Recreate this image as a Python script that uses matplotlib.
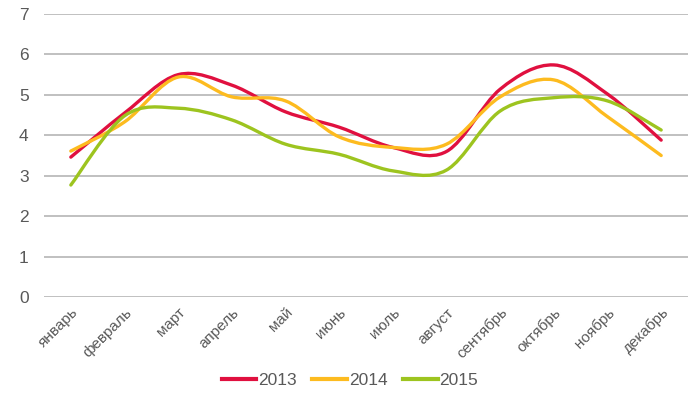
import matplotlib.pyplot as plt
from matplotlib.path import Path
from matplotlib.patches import PathPatch
from matplotlib.lines import Line2D

plt.rcParams['font.family'] = ['Liberation Sans', 'DejaVu Sans']

months = ['январь', 'февраль', 'март', 'апрель', 'май', 'июнь',
          'июль', 'август', 'сентябрь', 'октябрь', 'ноябрь', 'декабрь']
v2013 = [3.46, 4.55, 5.50, 5.24, 4.58, 4.20, 3.70, 3.60, 5.14, 5.74, 5.02, 3.88]
v2014 = [3.61, 4.33, 5.44, 4.95, 4.85, 3.96, 3.70, 3.78, 4.95, 5.37, 4.46, 3.50]
v2015 = [2.77, 4.48, 4.67, 4.38, 3.78, 3.53, 3.12, 3.14, 4.60, 4.93, 4.85, 4.13]

series = [('2013', v2013, '#E0103F'), ('2014', v2014, '#FDBB1F'), ('2015', v2015, '#9DC41F')]


def smooth_path(xs, ys, t=1 / 6):
    # excel-like smoothing: cubic bezier through every point
    verts = [(xs[0], ys[0])]
    codes = [Path.MOVETO]
    n = len(xs)
    for i in range(n - 1):
        x0, y0 = (xs[i - 1], ys[i - 1]) if i > 0 else (xs[i], ys[i])
        x1, y1 = xs[i], ys[i]
        x2, y2 = xs[i + 1], ys[i + 1]
        x3, y3 = (xs[i + 2], ys[i + 2]) if i + 2 < n else (x2, y2)
        verts += [(x1 + (x2 - x0) * t, y1 + (y2 - y0) * t),
                  (x2 - (x3 - x1) * t, y2 - (y3 - y1) * t),
                  (x2, y2)]
        codes += [Path.CURVE4] * 3
    return Path(verts, codes)


fig = plt.figure(figsize=(7, 3.94), dpi=100)
ax = fig.add_axes([44 / 700, 1 - 297 / 394, 644 / 700, 283 / 394])

x = list(range(len(months)))
handles = []
for name, vals, col in series:
    ax.add_patch(PathPatch(smooth_path(x, vals), facecolor='none', edgecolor=col,
                           linewidth=2.4, capstyle='round', zorder=3))
    handles.append(Line2D([], [], color=col, linewidth=3, label=name))

ax.set_xlim(-0.5, 11.5)
ax.set_ylim(0, 7)
ax.set_yticks(range(8))
ax.set_xticks(x)
ax.set_xticklabels(months, rotation=45, ha='right', rotation_mode='anchor')
ax.grid(axis='y', color='#C0C0C0', linewidth=1.4)
ax.set_axisbelow(True)
for s in ax.spines.values():
    s.set_visible(False)
ax.tick_params(length=0, colors='#595959')
ax.tick_params(axis='y', labelsize=12.5, pad=11)
ax.tick_params(axis='x', labelsize=11, pad=6)

fig.legend(handles=handles, loc='center', bbox_to_anchor=(0.5, 1 - 380 / 394), ncol=3,
           frameon=False, fontsize=12.5, handlelength=2.0, handletextpad=0.1,
           columnspacing=0.9, labelcolor='#595959')

fig.savefig('out.png', dpi=100)
